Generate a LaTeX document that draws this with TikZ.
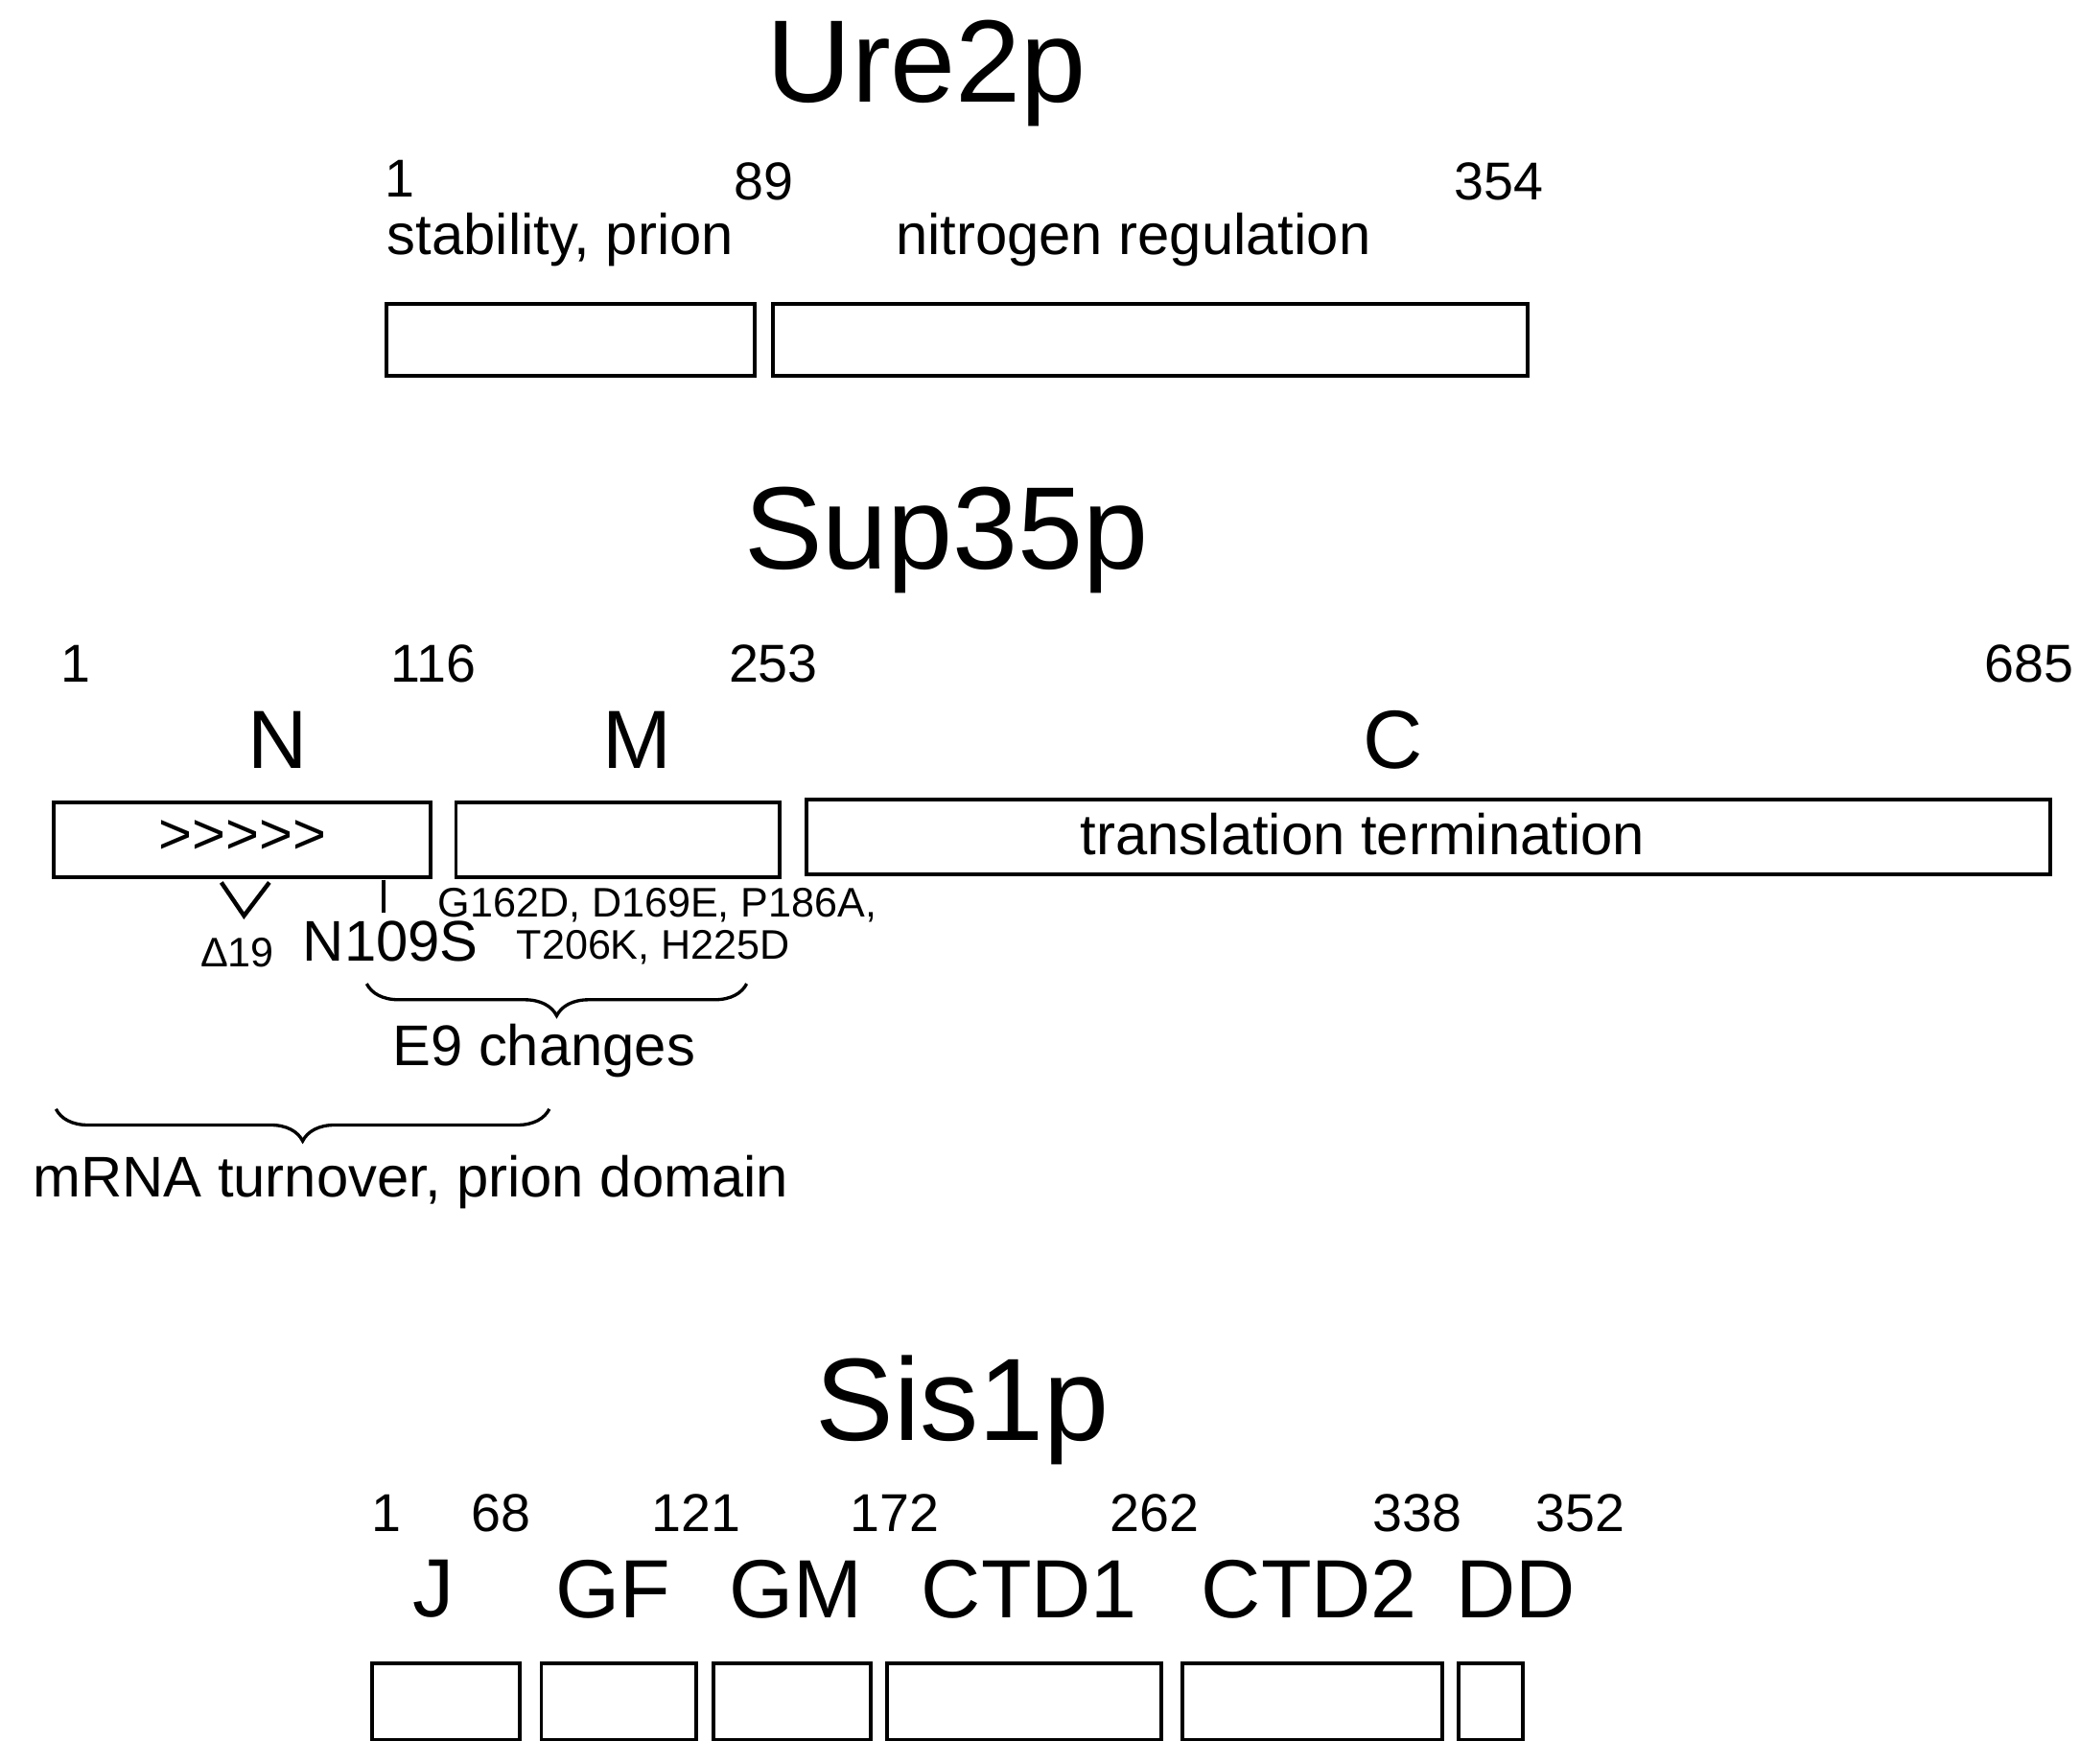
\documentclass[tikz,border=0pt]{standalone}
\usepackage{fontspec}
\setmainfont{Liberation Sans}
\usetikzlibrary{decorations.pathreplacing}
\begin{document}
\begin{tikzpicture}[x=0.5pt,y=-0.5pt,
  dom/.style={draw,line width=1.4pt,inner sep=0pt},
  ttl/.style={font=\fontsize{44}{48}\selectfont},
  num/.style={font=\fontsize{20}{22}\selectfont},
  lab/.style={font=\fontsize{21.5}{24}\selectfont},
  big/.style={font=\fontsize{31}{33}\selectfont},
  sml/.style={font=\fontsize{15.5}{17}\selectfont},
  brc/.style={decorate,decoration={brace,amplitude=12pt,mirror},line width=1.2pt}]
\useasboundingbox (0,0) rectangle (1560,1323);
% Ure2p
\node[ttl] (u) at (695,55) {Ure2p};
\node[num,inner sep=1pt] (u1) at (300,134) {1};
\node[num] (u89) at (573,136) {89};
\node[num] (u354) at (1124,136) {354};
\node[lab,anchor=west,inner sep=1pt] (ul1) at (288,180) {stability, prion};
\node[lab] (ul2) at (850,180) {nitrogen regulation};
\draw[dom] (290,228) rectangle (566,282);
\draw[dom] (580,228) rectangle (1146,282);
% Sup35p
\node[ttl] (s) at (710,405) {Sup35p};
\node[num] (s1) at (57,498) {1};
\node[num] (s116) at (325,498) {116};
\node[num] (s253) at (580,498) {253};
\node[num] (s685) at (1522,498) {685};
\node[big] (sN) at (208,555) {N};
\node[big] (sM) at (478,555) {M};
\node[big] (sC) at (1045,555) {C};
\draw[dom] (40,602) rectangle (323,658);
\draw[dom] (342,602) rectangle (585,658);
\draw[dom] (605,600) rectangle (1538,656);
\node[lab] (arr) at (182,628) {{>}{>}{>}{>}{>}};
\node[lab] (tt) at (1022,626) {translation termination};
\draw[line width=1.6pt] (166,662) -- (183,687) -- (202,662);
\node[sml] (d19) at (178,715) {Δ19};
\draw[line width=1.4pt] (288,660) -- (288,685);
\node[lab] (n109) at (293,706) {N109S};
\node[sml] (g1) at (493,679) {G162D, D169E, P186A,};
\node[sml] (g2) at (490,711) {T206K, H225D};
\coordinate (b1a) at (275,738); \coordinate (b1b) at (560,738);
\draw[brc] (b1a) -- (b1b);
\node[lab] (e9) at (408,788) {E9 changes};
\coordinate (b2a) at (42,832); \coordinate (b2b) at (412,832);
\draw[brc] (b2a) -- (b2b);
\node[lab] (mr) at (308,887) {mRNA turnover, prion domain};
% Sis1p
\node[ttl] (si) at (722,1058) {Sis1p};
\foreach \x/\t in {290/1,376/68,522/121,671/172,866/262,1063/338,1185/352}
  \node[num] (n\t) at (\x,1135) {\t};
\foreach \x/\t in {325/J,460/GF,597/GM,772/CTD1,982/CTD2,1137/DD}
  \node[big] (l\t) at (\x,1192) {\t};
\foreach \a/\b in {279/390,406/522,535/653,665/871,887/1082,1094/1142}
  \draw[dom] (\a,1248) rectangle (\b,1305);
\end{tikzpicture}
\end{document}
